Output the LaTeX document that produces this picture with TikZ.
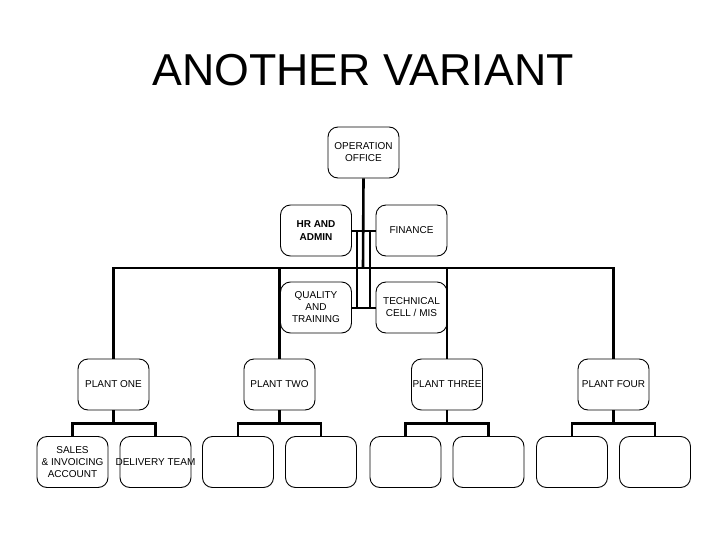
\documentclass[tikz,border=0pt]{standalone}
\usepackage{fontspec}
\setmainfont{Liberation Sans}
\usetikzlibrary{calc,positioning}

\begin{document}
\begin{tikzpicture}[
  x=1pt,y=-1pt,
  orgbox/.style={draw=black,fill=white,rounded corners=10pt,line width=0.9pt,
                 minimum width=71pt,minimum height=51pt,inner sep=1pt,
                 align=center,font=\fontsize{10}{12}\selectfont,text=black},
  link/.style={draw=black,line width=2.6pt},
  titletext/.style={font=\fontsize{44.7}{50}\selectfont,text=black,anchor=base}
]

% Page frame.
\useasboundingbox (0,0) rectangle (728,546);
\fill[white] (0,0) rectangle (728,546);

\node[titletext] (title) at (363,85) {ANOTHER VARIANT};

% -------------------------------------------------------------------------
% Head office and its staff units.
\node[orgbox] (office) at (363.5,152.5) {OPERATION\\OFFICE};
\node[orgbox,font=\fontsize{10}{13}\selectfont\bfseries] (hradmin) at (316,230.5)
  {HR AND\\ADMIN};
\node[orgbox] (finance) at (411.5,230.5) {FINANCE};
\node[orgbox] (quality) at (316,307.5) {QUALITY\\AND\\TRAINING};
\node[orgbox] (techcell) at (411.5,307.5) {TECHNICAL\\CELL / MIS};

\coordinate (hub) at (363,268);

% -------------------------------------------------------------------------
% Plants.
\node[orgbox] (plantone) at (113.5,384.5) {PLANT ONE};
\node[orgbox] (planttwo) at (279.5,384.5) {PLANT TWO};
\node[orgbox] (plantthree) at (447,384.5) {PLANT THREE};
\node[orgbox] (plantfour) at (613.5,384.5) {PLANT FOUR};

% Sections under each plant.
\node[orgbox] (sales) at (72.5,462) {SALES\\\&~INVOICING\\ACCOUNT};
\node[orgbox] (delivery) at (155.5,462) {\makebox[0pt]{DELIVERY TEAM}};
\node[orgbox] (twoa) at (238,462) {};
\node[orgbox] (twob) at (321,462) {};
\node[orgbox] (threea) at (405.5,462) {};
\node[orgbox] (threeb) at (488.5,462) {};
\node[orgbox] (foura) at (572,462) {};
\node[orgbox] (fourb) at (655,462) {};

% -------------------------------------------------------------------------
% Connectors.
\draw[link] (office.south)--(hub);
\draw[link] (plantone.north) |- (hub) -| (plantfour.north);
\draw[link] (planttwo.north)--(planttwo.north |- hub)
  (plantthree.north)--(plantthree.north |- hub);

\draw[link,line width=2pt] (hradmin.east)--(finance.west)
  (quality.east)--(techcell.west)
  ([xshift=5pt]hradmin.east)--([xshift=5pt]quality.east)
  ([xshift=-6pt]finance.west)--([xshift=-6pt]techcell.west);

\draw[link] (plantone.south)--++(0,13) coordinate (jone);
\draw[link] (sales.north) |- (jone) -| (delivery.north);
\draw[link] (planttwo.south)--++(0,13) coordinate (jtwo);
\draw[link] (twoa.north) |- (jtwo) -| (twob.north);
\draw[link] (plantthree.south)--++(0,13) coordinate (jthree);
\draw[link] (threea.north) |- (jthree) -| (threeb.north);
\draw[link] (plantfour.south)--++(0,13) coordinate (jfour);
\draw[link] (foura.north) |- (jfour) -| (fourb.north);

\end{tikzpicture}
\end{document}
